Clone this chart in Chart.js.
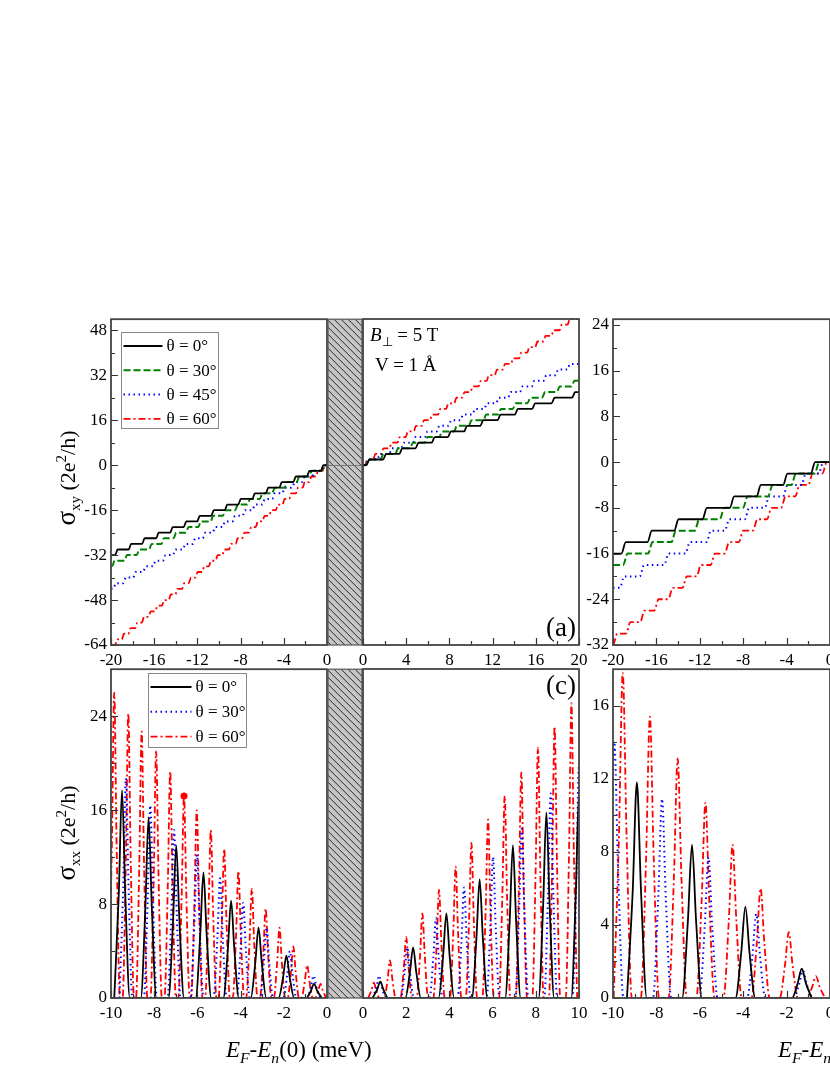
<!DOCTYPE html>
<html>
<head>
<meta charset="utf-8">
<title>Hall and longitudinal conductivity vs Fermi energy</title>
<script src="https://cdn.jsdelivr.net/npm/chart.js@4.4.1/dist/chart.umd.min.js"></script>
<style>
  html, body { margin: 0; padding: 0; background: #fff; overflow: hidden; }
  body { position: relative; width: 830px; height: 1075px; font-family: "Liberation Serif", "Times New Roman", serif; }
  canvas { position: absolute; }
  .t { position: absolute; white-space: nowrap; color: #000; line-height: 1; }
  .rot { transform: translate(-50%, -50%) rotate(-90deg); }
  .t sub, .t sup { font-size: 68%; line-height: 0; }
</style>
</head>
<body>
<canvas id="aNeg"></canvas>
<canvas id="aPos"></canvas>
<canvas id="bNeg"></canvas>
<canvas id="cNeg"></canvas>
<canvas id="cPos"></canvas>
<canvas id="dNeg"></canvas>

<div class="t" style="left:370px;top:325px;font-size:19px"><i>B</i><sub>&perp;</sub> = 5 T</div>
<div class="t" style="left:375px;top:355px;font-size:19px">V = 1 &Aring;</div>
<div class="t" style="left:546px;top:614px;font-size:27px">(a)</div>
<div class="t" style="left:546px;top:672px;font-size:27px">(c)</div>
<div class="t rot" style="left:66px;top:478px;font-size:22px"><span style="font-size:27px">&sigma;</span><sub>xy</sub> (2e<sup>2</sup>/h)</div>
<div class="t rot" style="left:66px;top:833px;font-size:22px"><span style="font-size:27px">&sigma;</span><sub>xx</sub> (2e<sup>2</sup>/h)</div>
<div class="t" style="left:226px;top:1038px;font-size:23px"><i>E</i><sub><i>F</i></sub>-<i>E</i><sub><i>n</i></sub>(0) (meV)</div>
<div class="t" style="left:778px;top:1038px;font-size:23px"><i>E</i><sub><i>F</i></sub>-<i>E</i><sub><i>n</i></sub>(0) (meV)</div>

<script>
// ---------------------------------------------------------------------------
// Data
// ---------------------------------------------------------------------------
const thetaLabels = ['θ = 0°', 'θ = 30°', 'θ = 45°', 'θ = 60°'];

// (a) sigma_xy, E < 0 : energies (meV) where a step rises, and plateau values
const aNegE0  = [-19.5, -18.25, -17.0, -15.7, -14.4, -13.15, -11.9, -10.6, -9.35, -8.1, -6.8, -5.55, -4.3, -3.0, -1.75, -0.45];
const aNegS0  = [-32, -30, -28, -26, -24, -22, -20, -18, -16, -14, -12, -10, -8, -6, -4, -2, 0];
const aNegE30 = [-19.78, -18.64, -17.5, -16.36, -15.22, -14.08, -12.94, -11.8, -10.66, -9.52, -8.38, -7.24, -6.1, -4.96, -3.82, -2.68, -1.54, -0.4];
const aNegS30 = [-36, -34, -32, -30, -28, -26, -24, -22, -20, -18, -16, -14, -12, -10, -8, -6, -4, -2, 0];
const aNegE45 = [-19.67, -18.75, -17.83, -16.91, -15.99, -15.07, -14.15, -13.23, -12.31, -11.39, -10.47, -9.55, -8.63, -7.71, -6.79, -5.87, -4.95, -4.03, -3.11, -2.19, -1.27, -0.35];
const aNegS45 = [-44, -42, -40, -38, -36, -34, -32, -30, -28, -26, -24, -22, -20, -18, -16, -14, -12, -10, -8, -6, -4, -2, 0];
const aNegE60 = [-19.52, -18.9, -18.28, -17.66, -17.04, -16.42, -15.8, -15.18, -14.56, -13.94, -13.32, -12.7, -12.08, -11.46, -10.84, -10.22, -9.6, -8.98, -8.36, -7.74, -7.12, -6.5, -5.88, -5.26, -4.64, -4.02, -3.4, -2.78, -2.16, -1.54, -0.92, -0.3];
const aNegS60 = [-64, -62, -60, -58, -56, -54, -52, -50, -48, -46, -44, -42, -40, -38, -36, -34, -32, -30, -28, -26, -24, -22, -20, -18, -16, -14, -12, -10, -8, -6, -4, -2, 0];

// (a) sigma_xy, E > 0
const aPosE0  = [0.45, 2.0, 3.5, 5.0, 6.5, 8.0, 9.5, 11.0, 12.6, 14.2, 15.8, 17.6, 19.5];
const aPosS0  = [0, 2, 4, 6, 8, 10, 12, 14, 16, 18, 20, 22, 24, 26];
const aPosE30 = [0.4, 1.76, 3.12, 4.48, 5.84, 7.2, 8.56, 9.92, 11.28, 12.64, 14.0, 15.36, 16.72, 18.08, 19.44];
const aPosS30 = [0, 2, 4, 6, 8, 10, 12, 14, 16, 18, 20, 22, 24, 26, 28, 30];
const aPosE45 = [0.35, 1.45, 2.55, 3.65, 4.75, 5.85, 6.95, 8.05, 9.15, 10.25, 11.35, 12.45, 13.55, 14.65, 15.75, 16.85, 17.95, 19.05];
const aPosS45 = [0, 2, 4, 6, 8, 10, 12, 14, 16, 18, 20, 22, 24, 26, 28, 30, 32, 34, 36];
const aPosE60 = [0.3, 1.05, 1.8, 2.55, 3.3, 4.05, 4.8, 5.55, 6.3, 7.05, 7.8, 8.55, 9.3, 10.05, 10.8, 11.55, 12.3, 13.05, 13.8, 14.55, 15.3, 16.05, 16.8, 17.55, 18.3, 19.05];
const aPosS60 = [0, 2, 4, 6, 8, 10, 12, 14, 16, 18, 20, 22, 24, 26, 28, 30, 32, 34, 36, 38, 40, 42, 44, 46, 48, 50, 52];

// (b) sigma_xy, E < 0
const bE0  = [-19.02, -16.62, -14.16, -11.55, -9.03, -6.57, -4.12, -1.57];
const bS0  = [-16, -14, -12, -10, -8, -6, -4, -2, 0];
const bE30 = [-18.86, -16.56, -14.41, -12.26, -9.95, -7.8, -5.5, -3.35, -1.2];
const bS30 = [-18, -16, -14, -12, -10, -8, -6, -4, -2, 0];
const bE45 = [-19.17, -17.33, -15.08, -13.12, -11.18, -9.49, -7.65, -5.81, -4.12, -2.43, -0.83];
const bS45 = [-22, -20, -18, -16, -14, -12, -10, -8, -6, -4, -2, 0];
const bE60 = [-19.8, -18.6, -17.3, -16.0, -14.7, -13.4, -12.1, -10.8, -9.5, -8.2, -6.9, -5.6, -4.3, -3.0, -1.8, -0.5];
const bS60 = [-32, -30, -28, -26, -24, -22, -20, -18, -16, -14, -12, -10, -8, -6, -4, -2, 0];

// (c) sigma_xx : peak energies (meV) and peak heights
const cNegC0  = [-9.49, -8.26, -6.98, -5.72, -4.44, -3.17, -1.88, -0.6];
const cNegH0  = [17.7, 15.4, 13.0, 10.7, 8.3, 6.0, 3.6, 1.2];
const cNegC30 = [-9.31, -8.18, -7.08, -6.02, -4.95, -3.88, -2.8, -1.72, -0.62];
const cNegH30 = [18.7, 16.4, 14.3, 12.2, 10.2, 8.1, 6.0, 4.0, 1.9];
const cNegC60 = [-9.85, -9.2, -8.58, -7.91, -7.26, -6.62, -6.03, -5.38, -4.76, -4.1, -3.48, -2.84, -2.2, -1.56, -0.92, -0.3];
const cNegH60 = [26.0, 24.2, 22.7, 21.0, 19.3, 17.2, 16.0, 14.3, 12.7, 10.8, 9.3, 7.6, 6.0, 4.4, 2.8, 1.2];
const cMarkX  = [-6.62];
const cMarkY  = [17.2];
const cPosC0  = [0.8, 2.32, 3.86, 5.4, 6.94, 8.49, 10.0];
const cPosH0  = [1.4, 4.3, 7.2, 10.1, 13.0, 15.8, 17.5];
const cPosC30 = [0.75, 2.05, 3.38, 4.68, 6.02, 7.35, 8.69, 10.0];
const cPosH30 = [1.9, 4.3, 6.8, 9.4, 12.0, 14.4, 17.4, 19.8];
const cPosC60 = [0.5, 1.25, 2.0, 2.75, 3.52, 4.29, 5.02, 5.79, 6.56, 7.33, 8.1, 8.87, 9.65];
const cPosH60 = [1.3, 3.2, 5.2, 7.2, 9.2, 11.2, 13.2, 15.2, 17.2, 19.2, 21.3, 23.1, 25.1];

// (d) sigma_xx, E < 0
const dC0  = [-8.9, -6.36, -3.9, -1.3];
const dH0  = [11.8, 8.4, 5.0, 1.6];
const dC30 = [-9.94, -7.74, -5.6, -3.4, -1.25];
const dH30 = [14.0, 10.9, 7.7, 4.6, 1.5];
const dC60 = [-9.55, -8.3, -7.02, -5.74, -4.49, -3.2, -1.9, -0.65];
const dH60 = [17.8, 15.4, 13.1, 10.7, 8.4, 6.0, 3.6, 1.2];

// tick labels
const xTicksANeg = [-20, -16, -12, -8, -4, 0];
const xTicksAPos = [0, 4, 8, 12, 16, 20];
const yTicksA    = [-64, -48, -32, -16, 0, 16, 32, 48];
const yTicksB    = [-32, -24, -16, -8, 0, 8, 16, 24];
const xTicksCNeg = [-10, -8, -6, -4, -2, 0];
const xTicksCPos = [0, 2, 4, 6, 8, 10];
const yTicksC    = [0, 8, 16, 24];
const yTicksD    = [0, 4, 8, 12, 16];

// ---------------------------------------------------------------------------
const SERIF = '"Liberation Serif", "Times New Roman", serif';

const BLACK = { borderColor: '#000000', borderWidth: 1.8, borderDash: [] };
const GREEN = { borderColor: '#008000', borderWidth: 2, borderDash: [7, 3] };
const BLUE  = { borderColor: '#0000ff', borderWidth: 2, borderDash: [1.5, 3.5] };
const RED   = { borderColor: '#ff0000', borderWidth: 1.8, borderDash: [7, 3, 2, 3] };

// staircase: plateau S[i] until edge E[i], short ramp of half width d
function stairs(E, S, x0, x1, d) {
    const pts = [{ x: x0, y: S[0] }];
    E.forEach((e, i) => {
        pts.push({ x: e - d, y: S[i] }, { x: e + d, y: S[i + 1] });
    });
    pts.push({ x: x1, y: S[S.length - 1] });
    return pts;
}

// narrow peaks at C with heights H (f = drawn half-height width)
function peaks(C, H, f) {
    const pts = [];
    C.forEach((c, i) => {
        const h = H[i];
        pts.push({ x: c - 1.2 * f, y: 0 }, { x: c - 0.5 * f, y: h / 2 }, { x: c, y: h },
                 { x: c + 0.5 * f, y: h / 2 }, { x: c + 1.2 * f, y: 0 });
    });
    return pts;
}

function line(label, data, st) {
    return Object.assign({ label, data, pointRadius: 0, fill: false, cubicInterpolationMode: 'monotone' }, st);
}

// frame + inward ticks
const frameTicks = {
    id: 'frameTicks',
    afterDraw(chart, args, o) {
        const { ctx, chartArea: a, scales: { x, y } } = chart;
        const isMajor = (s, v) => s.ticks.some(t => Math.abs(t.value - v) < 1e-6);
        ctx.save();
        ctx.strokeStyle = '#333';
        ctx.lineWidth = 1.2;
        ctx.beginPath();
        for (let v = x.min; v <= x.max + 1e-9; v += o.xMinor) {
            const px = Math.round(x.getPixelForValue(v)) + 0.5;
            ctx.moveTo(px, a.bottom);
            ctx.lineTo(px, a.bottom - (isMajor(x, v) ? 7 : 4));
        }
        if (o.yTicks) {
            for (let v = y.min; v <= y.max + 1e-9; v += o.yMinor) {
                const py = Math.round(y.getPixelForValue(v)) + 0.5;
                ctx.moveTo(a.left, py);
                ctx.lineTo(a.left + (isMajor(y, v) ? 7 : 4), py);
            }
        }
        ctx.stroke();
        ctx.strokeStyle = '#444';
        ctx.lineWidth = 1.8;
        ctx.strokeRect(a.left, a.top, a.right - a.left, a.bottom - a.top);
        ctx.restore();
    }
};

// hatched gap between the E<0 and E>0 halves
const hatch = {
    id: 'hatch',
    afterDraw(chart, args, o) {
        if (!o.gap) return;
        const { ctx, chartArea: a, scales: { y } } = chart;
        const x0 = a.right + 1, w = o.gap - 2, y0 = a.top, h = a.bottom - a.top;
        ctx.save();
        ctx.fillStyle = '#c6c6c6';
        ctx.fillRect(x0, y0, w, h);
        ctx.beginPath();
        ctx.rect(x0, y0, w, h);
        ctx.clip();
        ctx.strokeStyle = '#2a2a2a';
        ctx.lineWidth = 1;
        ctx.beginPath();
        for (let k = -w; k < h + w; k += 7) {
            ctx.moveTo(x0, y0 + k);
            ctx.lineTo(x0 + w, y0 + k + w);
        }
        ctx.stroke();
        if (o.zero) {
            const py = Math.round(y.getPixelForValue(0)) + 0.5;
            ctx.strokeStyle = '#777';
            ctx.beginPath();
            ctx.moveTo(x0, py);
            ctx.lineTo(x0 + w, py);
            ctx.stroke();
        }
        ctx.restore();
        ctx.save();
        ctx.strokeStyle = '#555';
        ctx.lineWidth = 1.2;
        ctx.strokeRect(x0, y0, w, h);
        ctx.restore();
    }
};

// boxed legend inside the plot
const legendBox = {
    id: 'legendBox',
    afterDraw(chart, args, o) {
        if (!o.show) return;
        const { ctx, chartArea: a } = chart;
        const x0 = Math.round(a.left + o.x) + 0.5, y0 = Math.round(a.top + o.y) + 0.5;
        ctx.save();
        ctx.fillStyle = '#fff';
        ctx.fillRect(x0, y0, o.w, o.h);
        ctx.strokeStyle = '#888';
        ctx.lineWidth = 1;
        ctx.strokeRect(x0, y0, o.w, o.h);
        o.items.forEach((idx, i) => {
            const ds = chart.data.datasets[idx];
            const yy = y0 + o.first + i * o.gap;
            ctx.strokeStyle = ds.borderColor;
            ctx.lineWidth = ds.borderWidth;
            ctx.setLineDash(ds.borderDash || []);
            ctx.beginPath();
            ctx.moveTo(x0 + 2, yy);
            ctx.lineTo(x0 + 2 + o.sample, yy);
            ctx.stroke();
            ctx.setLineDash([]);
            ctx.fillStyle = '#000';
            ctx.font = '17px ' + SERIF;
            ctx.textBaseline = 'middle';
            ctx.fillText(ds.label, x0 + o.sample + 6, yy + 1);
        });
        ctx.restore();
    }
};

function panel(id, box, o) {
    const cv = document.getElementById(id);
    const padT = 14, yW = 60, xH = 34, padR = o.padR || 20;
    cv.width = box.r - box.l + yW + padR;
    cv.height = box.b - box.t + padT + xH;
    cv.style.left = (box.l - yW) + 'px';
    cv.style.top = (box.t - padT) + 'px';
    const tickFont = { family: SERIF, size: 17 };
    return new Chart(cv, {
        type: 'line',
        data: { datasets: o.datasets },
        options: {
            responsive: false,
            animation: false,
            devicePixelRatio: 1,
            events: [],
            layout: { padding: { top: padT, right: padR, left: 0, bottom: 0 } },
            plugins: {
                legend: { display: false },
                tooltip: { enabled: false },
                frameTicks: { xMinor: o.xMinor, yMinor: o.yMinor, yTicks: o.yLabels !== false },
                hatch: { gap: o.hatch || 0, zero: !!o.zero },
                legendBox: o.legend || { show: false }
            },
            scales: {
                x: {
                    type: 'linear', min: o.xMin, max: o.xMax,
                    afterFit: s => { s.height = xH; },
                    afterBuildTicks: s => { s.ticks = o.xTicks.map(v => ({ value: v })); },
                    grid: { display: false, drawTicks: false },
                    border: { display: false },
                    ticks: { font: tickFont, color: '#000', padding: 5, maxRotation: 0, autoSkip: false }
                },
                y: {
                    type: 'linear', min: o.yMin, max: o.yMax,
                    afterFit: s => { s.width = yW; },
                    afterBuildTicks: s => { s.ticks = o.yTicks.map(v => ({ value: v })); },
                    grid: { display: false, drawTicks: false },
                    border: { display: false },
                    ticks: { display: o.yLabels !== false, font: tickFont, color: '#000', padding: 4, autoSkip: false }
                }
            }
        },
        plugins: [frameTicks, hatch, legendBox]
    });
}

// ---------------------------------------------------------------------------
const GAP = 36;
const boxANeg = { l: 111, r: 327, t: 319, b: 645 };
const boxAPos = { l: 363, r: 579, t: 319, b: 645 };
const boxB    = { l: 613, r: 830, t: 319, b: 645 };
const boxCNeg = { l: 111, r: 327, t: 669, b: 998 };
const boxCPos = { l: 363, r: 579, t: 669, b: 998 };
const boxD    = { l: 613, r: 830, t: 669, b: 998 };

panel('aNeg', boxANeg, {
    xMin: -20, xMax: 0, yMin: -64, yMax: 52, xTicks: xTicksANeg, yTicks: yTicksA,
    xMinor: 2, yMinor: 8, padR: GAP + 4, hatch: GAP, zero: true,
    legend: { show: true, x: 10, y: 13, w: 97, h: 96, first: 13.5, gap: 24.3, sample: 39, items: [0, 1, 2, 3] },
    datasets: [
        line(thetaLabels[0], stairs(aNegE0, aNegS0, -20, 0, 0.12), BLACK),
        line(thetaLabels[1], stairs(aNegE30, aNegS30, -20, 0, 0.12), GREEN),
        line(thetaLabels[2], stairs(aNegE45, aNegS45, -20, 0, 0.12), BLUE),
        line(thetaLabels[3], stairs(aNegE60, aNegS60, -20, 0, 0.1), RED)
    ]
});

panel('aPos', boxAPos, {
    xMin: 0, xMax: 20, yMin: -64, yMax: 52, xTicks: xTicksAPos, yTicks: yTicksA,
    xMinor: 2, yMinor: 8, yLabels: false,
    datasets: [
        line(thetaLabels[0], stairs(aPosE0, aPosS0, 0, 20, 0.14), BLACK),
        line(thetaLabels[1], stairs(aPosE30, aPosS30, 0, 20, 0.14), GREEN),
        line(thetaLabels[2], stairs(aPosE45, aPosS45, 0, 20, 0.12), BLUE),
        line(thetaLabels[3], stairs(aPosE60, aPosS60, 0, 20, 0.1), RED)
    ]
});

panel('bNeg', boxB, {
    xMin: -20, xMax: 0, yMin: -32, yMax: 25, xTicks: xTicksANeg, yTicks: yTicksB,
    xMinor: 2, yMinor: 4,
    datasets: [
        line(thetaLabels[0], stairs(bE0, bS0, -20, 0, 0.2), BLACK),
        line(thetaLabels[1], stairs(bE30, bS30, -20, 0, 0.2), GREEN),
        line(thetaLabels[2], stairs(bE45, bS45, -20, 0, 0.2), BLUE),
        line(thetaLabels[3], stairs(bE60, bS60, -20, 0, 0.2), RED)
    ]
});

const markSet = {
    label: 'mark', data: cMarkX.map((x, i) => ({ x, y: cMarkY[i] })), showLine: false,
    pointRadius: 3.5, pointBackgroundColor: '#ff0000', pointBorderWidth: 0
};

panel('cNeg', boxCNeg, {
    xMin: -10, xMax: 0, yMin: 0, yMax: 28, xTicks: xTicksCNeg, yTicks: yTicksC,
    xMinor: 1, yMinor: 4, padR: GAP + 4, hatch: GAP,
    legend: { show: true, x: 37, y: 4, w: 98, h: 74, first: 13.5, gap: 24.8, sample: 41, items: [0, 1, 2] },
    datasets: [
        line(thetaLabels[0], peaks(cNegC0, cNegH0, 0.3), BLACK),
        line(thetaLabels[1], peaks(cNegC30, cNegH30, 0.25), BLUE),
        line(thetaLabels[3], peaks(cNegC60, cNegH60, 0.22), RED),
        markSet
    ]
});

panel('cPos', boxCPos, {
    xMin: 0, xMax: 10, yMin: 0, yMax: 28, xTicks: xTicksCPos, yTicks: yTicksC,
    xMinor: 1, yMinor: 4, yLabels: false,
    datasets: [
        line(thetaLabels[0], peaks(cPosC0, cPosH0, 0.3), BLACK),
        line(thetaLabels[1], peaks(cPosC30, cPosH30, 0.25), BLUE),
        line(thetaLabels[3], peaks(cPosC60, cPosH60, 0.22), RED)
    ]
});

panel('dNeg', boxD, {
    xMin: -10, xMax: 0, yMin: 0, yMax: 18, xTicks: xTicksCNeg, yTicks: yTicksD,
    xMinor: 1, yMinor: 2,
    datasets: [
        line(thetaLabels[0], peaks(dC0, dH0, 0.38), BLACK),
        line(thetaLabels[1], peaks(dC30, dH30, 0.35), BLUE),
        line(thetaLabels[3], peaks(dC60, dH60, 0.35), RED)
    ]
});
</script>
</body>
</html>
